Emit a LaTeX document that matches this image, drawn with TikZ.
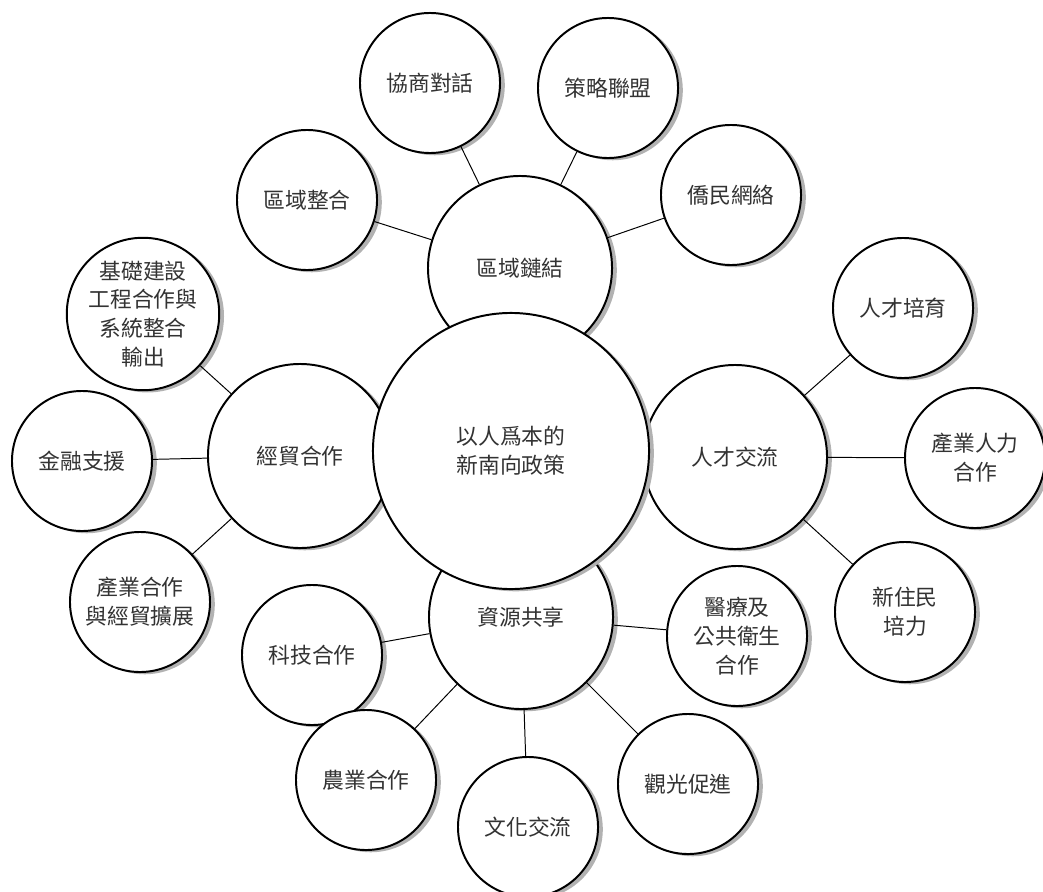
\documentclass[tikz,border=0pt]{standalone}
\usepackage{fontspec}
\newfontfamily\cjk{Noto Sans CJK TC}
\usetikzlibrary{shadows}
\begin{document}
\begin{tikzpicture}[
        x=0.025cm, y=-0.025cm,
        every node/.style={font=\cjk\fontsize{15.5}{20.5}\selectfont, text=black!80},
        bubble/.style={circle, draw=black, line width=1.4pt, fill=white,
            inner sep=0pt, align=center,
            drop shadow={shadow xshift=3.4pt, shadow yshift=-1.6pt,
                fill=gray!60, opacity=1}},
        core/.style={bubble, minimum size=6.9cm},
        hub/.style={bubble, minimum size=4.6cm},
        leaf/.style={bubble, minimum size=3.5cm},
        link/.style={draw=black, line width=0.7pt}
      ]
      \useasboundingbox (0,0) rectangle (1043,892);
      \node[hub] (region) at (520, 268) {區域鏈結};
      \node[hub] (trade)  at (300, 456) {經貿合作};
      \node[hub] (talent) at (735, 457) {人才交流};
      \node[hub] (share)  at (521, 617) {資源共享};
      \node[core] (policy) at (511, 451) {以人爲本的\\新南向政策};
      \node[leaf] (consult)  at (430,  83) {協商對話};
      \node[leaf] (alliance) at (608,  88) {策略聯盟};
      \node[leaf] (diaspora) at (731, 195) {僑民網絡};
      \node[leaf] (integrate) at (307, 200) {區域整合};
      \node[leaf] (infra)    at (143, 314) {基礎建設\\工程合作與\\系統整合\\輸出};
      \node[leaf] (finance)  at ( 82, 461) {金融支援};
      \node[leaf] (industry) at (140, 602) {產業合作\\與經貿擴展};
      \node[leaf] (training) at (903, 308) {人才培育};
      \node[leaf] (workforce) at (975, 458) {產業人力\\合作};
      \node[leaf] (migrant)  at (905, 612) {新住民\\培力};
      \node[leaf] (tech)     at (312, 655) {科技合作};
      \node[leaf] (health)   at (737, 636) {醫療及\\公共衛生\\合作};
      \node[leaf] (farm)     at (366, 780) {農業合作};
      \node[leaf] (culture)  at (528, 827) {文化交流};
      \node[leaf] (tourism)  at (688, 784) {觀光促進};
      \draw[link] (region) -- (consult);
      \draw[link] (region) -- (alliance);
      \draw[link] (region) -- (diaspora);
      \draw[link] (region) -- (integrate);
      \draw[link] (trade)  -- (infra);
      \draw[link] (trade)  -- (finance);
      \draw[link] (trade)  -- (industry);
      \draw[link] (talent) -- (training);
      \draw[link] (talent) -- (workforce);
      \draw[link] (talent) -- (migrant);
      \draw[link] (share)  -- (tech);
      \draw[link] (share)  -- (health);
      \draw[link] (share)  -- (farm);
      \draw[link] (share)  -- (culture);
      \draw[link] (share)  -- (tourism);
    \end{tikzpicture}
\end{document}
